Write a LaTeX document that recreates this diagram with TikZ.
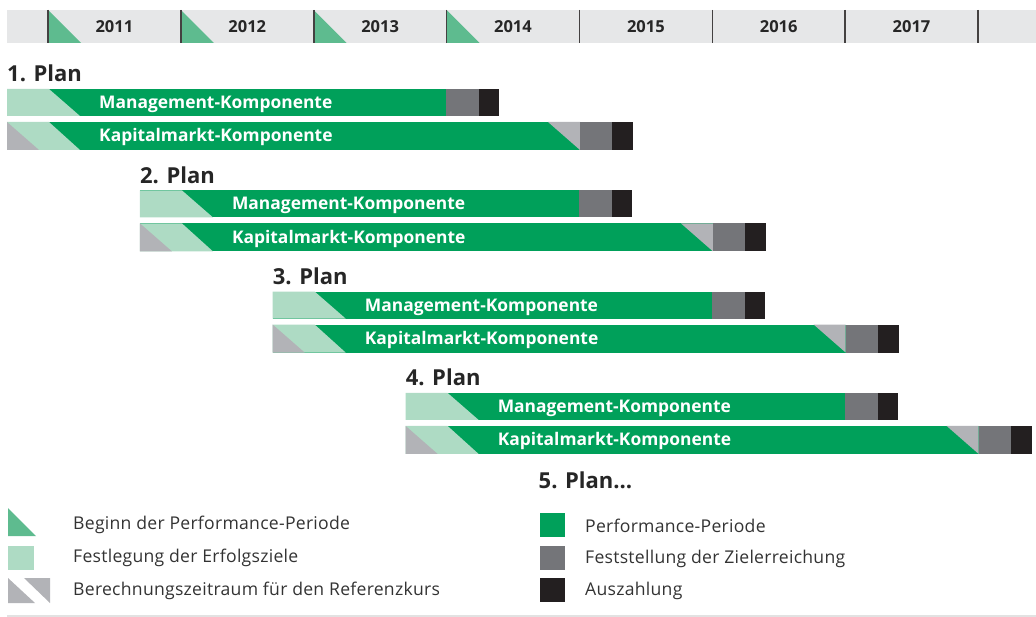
\documentclass[tikz,border=0pt]{standalone}
\usepackage{fontspec}
\setmainfont{Open Sans}
\definecolor{hdrbg}{HTML}{E6E7E8}
\definecolor{hdrgreen}{HTML}{5EBB8F}
\definecolor{pgreen}{HTML}{00A05A}
\definecolor{lgreen}{HTML}{AEDBC4}
\definecolor{lgray}{HTML}{B2B3B7}
\definecolor{dgray}{HTML}{747579}
\definecolor{pblack}{HTML}{231F20}
\definecolor{txtdark}{HTML}{262626}
\definecolor{txtleg}{HTML}{333333}
\definecolor{rulegray}{HTML}{E2E2E2}
\begin{document}
\begin{tikzpicture}[x=1pt,y=-1pt,
  yeartext/.style={font=\fontsize{16.5}{18}\selectfont\bfseries, text=txtdark, inner sep=0pt},
  plantext/.style={font=\fontsize{22}{24}\selectfont\bfseries, text=txtdark, inner sep=0pt, anchor=base west},
  bartext/.style={font=\fontsize{17.4}{19}\selectfont\bfseries, text=white, inner sep=0pt, anchor=base west},
  legtext/.style={font=\fontsize{17.6}{19}\selectfont\addfontfeature{LetterSpace=1.5}, text=txtleg, inner sep=0pt, anchor=west},
  divider/.style={draw=pblack!85, line width=1.6pt}]
\useasboundingbox (0,0) rectangle (1036,617);
% header
\fill[hdrbg] (7,10) rectangle (1036,43);
\foreach \i/\yr in {0/2011,1/2012,2/2013,3/2014,4/2015,5/2016,6/2017}{
  \pgfmathsetmacro\d{48+\i*132.86}
  \node[yeartext] (y\yr) at (\d+66.4,27) {\yr};
}
\foreach \i in {0,1,2,3}{
  \pgfmathsetmacro\d{48+\i*132.86}
  \fill[hdrgreen] (\d,10) -- (\d,43) -- (\d+33,43) -- cycle;
}
\foreach \i in {0,...,7}{
  \pgfmathsetmacro\d{48+\i*132.86}
  \draw[divider] (\d,10) -- (\d,43);
}
% plans
\foreach \i in {0,1,2,3}{
  \pgfmathsetmacro\o{\i*132.86}
  \pgfmathsetmacro\v{\i*101.3}
  \pgfmathtruncatemacro\n{\i+1}
  \node[plantext] (plan\n) at (7+\o,82+\v) {\n. Plan};
  % Management
  \fill[pgreen] (7+\o,89+\v) rectangle (446+\o,116+\v);
  \fill[lgreen] (7+\o,89+\v) -- (49+\o,89+\v) -- (80+\o,116+\v) -- (7+\o,116+\v) -- cycle;
  \fill[dgray] (446+\o,89+\v) rectangle (479+\o,116+\v);
  \fill[pblack] (479+\o,89+\v) rectangle (499+\o,116+\v);
  \node[bartext] (mgmt\n) at (99+\o,108.5+\v) {Management-Komponente};
  % Kapitalmarkt
  \fill[pgreen] (7+\o,122+\v) rectangle (580+\o,150+\v);
  \fill[lgreen] (7+\o,122+\v) -- (49+\o,122+\v) -- (80+\o,150+\v) -- (7+\o,150+\v) -- cycle;
  \fill[lgray] (7+\o,122+\v) -- (39+\o,150+\v) -- (7+\o,150+\v) -- cycle;
  \fill[lgray] (548+\o,122+\v) -- (580+\o,122+\v) -- (580+\o,150+\v) -- cycle;
  \fill[dgray] (580+\o,122+\v) rectangle (612+\o,150+\v);
  \fill[pblack] (612+\o,122+\v) rectangle (633+\o,150+\v);
  \node[bartext] (kap\n) at (99+\o,142+\v) {Kapitalmarkt-Komponente};
}
\node[plantext] (plan5) at (538.5,488) {5. Plan…};
% legend
\fill[hdrgreen] (8,508) -- (8,536) -- (36,536) -- cycle;
\node[legtext] (l1) at (73,525) {Beginn der Performance-Periode};
\fill[lgreen] (8,546) rectangle (34,570);
\node[legtext] (l2) at (73,558) {Festlegung der Erfolgsziele};
\fill[lgray] (8,578) -- (35,603) -- (8,603) -- cycle;
\fill[lgray] (24,578) -- (50,578) -- (50,603) -- cycle;
\node[legtext] (l3) at (73,591) {Berechnungszeitraum für den Referenzkurs};
\fill[pgreen] (540,513) rectangle (565,537);
\node[legtext] (l4) at (585,526) {Performance-Periode};
\fill[dgray] (540,546) rectangle (565,570);
\node[legtext] (l5) at (585,559) {Feststellung der Zielerreichung};
\fill[pblack] (540,578) rectangle (565,602);
\node[legtext] (l6) at (585,591) {Auszahlung};
\draw[rulegray, line width=1.5pt] (7,616) -- (1036,616);
\end{tikzpicture}
\end{document}
